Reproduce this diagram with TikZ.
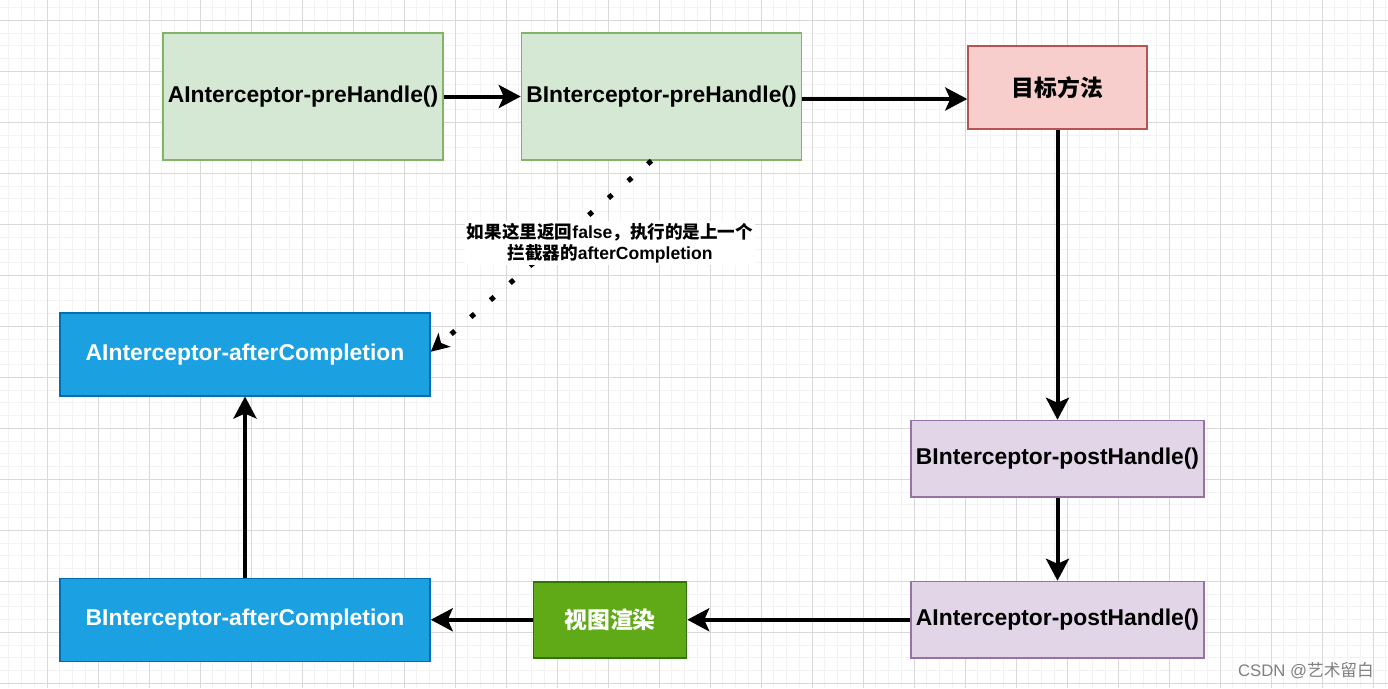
\documentclass[tikz,border=0pt]{standalone}
\usepackage{fontspec}
\setmainfont{Liberation Sans}
\newfontfamily\cjk{Noto Sans CJK SC}
\usetikzlibrary{positioning,arrows.meta}
\definecolor{greenfill}{HTML}{D5E8D4}
\definecolor{greenline}{HTML}{82B366}
\definecolor{redfill}{HTML}{F8CECC}
\definecolor{redline}{HTML}{B85450}
\definecolor{purplefill}{HTML}{E1D5E7}
\definecolor{purpleline}{HTML}{9673A6}
\definecolor{viewfill}{HTML}{60A917}
\definecolor{viewline}{HTML}{2D7600}
\definecolor{bluefill}{HTML}{1BA1E2}
\definecolor{blueline}{HTML}{006EAF}
\definecolor{gridmajor}{HTML}{D9D9D9}
\definecolor{gridminor}{HTML}{F3F3F3}

\tikzset{
  box/.style={draw, line width=0.03cm, inner sep=0pt, align=center,
    font=\bfseries\fontsize{13}{15.6}\selectfont},
  prebox/.style={box, fill=greenfill, draw=greenline, minimum width=5.6cm, minimum height=2.54cm},
  methodbox/.style={box, fill=redfill, draw=redline, minimum width=3.58cm, minimum height=1.66cm},
  postbox/.style={box, fill=purplefill, draw=purpleline, minimum width=5.86cm, minimum height=1.53cm},
  viewbox/.style={box, fill=viewfill, draw=viewline, text=white, minimum width=3.06cm, minimum height=1.52cm},
  afterbox/.style={box, fill=bluefill, draw=blueline, text=white, minimum width=7.4cm, minimum height=1.66cm},
  flow/.style={line width=0.08cm, -{Stealth[length=0.44cm, width=0.46cm, inset=0.1cm]}},
  falseflow/.style={line width=0.1cm, dash pattern=on 0.1cm off 0.42cm,
    -{Stealth[length=0.36cm, width=0.36cm, inset=0.09cm]}},
}

\begin{document}
\begin{tikzpicture}
  % Background grid
  \useasboundingbox[fill=white] (0,0) rectangle (27.76,-13.76);
  \foreach \i in {0,...,108}
    \draw[gridminor, line width=0.015cm] ({0.175+0.255*\i},0) -- ++(0,-13.76);
  \foreach \i in {0,...,53}
    \draw[gridminor, line width=0.015cm] (0,{-0.151-0.255*\i}) -- ++(27.76,0);
  \foreach \i in {0,...,26}
    \draw[gridmajor, line width=0.02cm] ({0.94+1.02*\i},0) -- ++(0,-13.76);
  \foreach \i in {0,...,13}
    \draw[gridmajor, line width=0.02cm] (0,{-0.406-1.02*\i}) -- ++(27.76,0);

  % Define nodes
  \node[prebox] (apre) at (6.06,-1.93) {AInterceptor-preHandle()};
  \node[prebox, right=1.54cm of apre] (bpre) {BInterceptor-preHandle()};
  \node[methodbox, right=3.3cm of bpre, yshift=0.18cm] (target) {\cjk 目标方法};
  \node[postbox, below=5.8cm of target] (bpost) {BInterceptor-postHandle()};
  \node[postbox, below=1.66cm of bpost] (apost) {AInterceptor-postHandle()};
  \node[viewbox, left=4.46cm of apost] (render) {\cjk 视图渲染};
  \node[afterbox, left=2.04cm of render] (bafter) {BInterceptor-afterCompletion};
  \node[afterbox, above=3.62cm of bafter] (aafter) {AInterceptor-afterCompletion};

  % Edges
  \draw[flow] (apre) -- (bpre);
  \draw[flow] ([yshift=-0.05cm]bpre.east) -- ([yshift=-0.05cm]bpre.east -| target.west);
  \draw[flow] (target.south) -- (target.south |- bpost.north);
  \draw[flow] (bpost) -- (apost);
  \draw[flow] (apost) -- (render);
  \draw[flow] (render) -- (bafter);
  \draw[flow] (bafter) -- (aafter);
  \draw[falseflow] ([xshift=-0.2cm]bpre.south) -- ([yshift=0.05cm]aafter.east);
  \node[fill=white, align=center, inner sep=1pt, font=\bfseries\fontsize{10}{12}\selectfont]
    (note) at (12.2,-4.86) {{\cjk 如果这里返回}false{\cjk ，执行的是上一个}\\{\cjk 拦截器的}afterCompletion};

  \node[text=gray, font=\fontsize{9.5}{11}\selectfont] (mark) at (26.12,-13.41) {CSDN @{\cjk 艺术留白}};
\end{tikzpicture}
\end{document}
